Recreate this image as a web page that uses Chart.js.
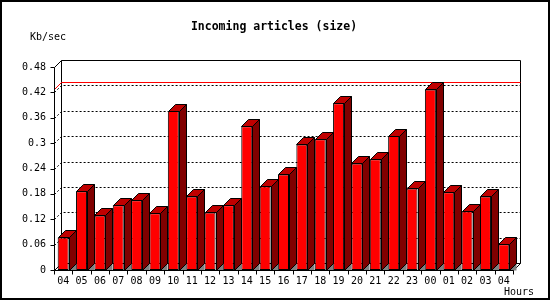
<!DOCTYPE html>
<html>
<head>
<meta charset="utf-8">
<script src="https://cdn.jsdelivr.net/npm/chart.js@4"></script>
<style>
  html, body { margin: 0; padding: 0; background: #fff; }
  #wrap { width: 550px; height: 300px; }
</style>
</head>
<body>
<div id="wrap"><canvas id="sizeChart" width="550" height="300"></canvas></div>
<script>
// data
const hours = ['04', '05', '06', '07', '08', '09', '10', '11', '12', '13', '14', '15', '16',
               '17', '18', '19', '20', '21', '22', '23', '00', '01', '02', '03', '04'];
const kbPerSec = [0.077, 0.186, 0.129, 0.153, 0.165, 0.134, 0.376, 0.174, 0.136, 0.153, 0.340, 0.198, 0.226,
                  0.297, 0.309, 0.394, 0.252, 0.262, 0.317, 0.193, 0.427, 0.184, 0.139, 0.174, 0.061];
const yTickLabels = ['0', '0.06', '0.12', '0.18', '0.24', '0.3', '0.36', '0.42', '0.48'];
const peakLine = Math.max(...kbPerSec);

const DX = 7, DY = 7;   // depth of the 3d look
const FONT = '"DejaVu Sans Mono", monospace';

const frame3d = {
    id: 'frame3d',
    beforeDatasetsDraw(chart) {
        const { ctx, chartArea: a, scales: { x, y } } = chart;
        const L = Math.round(a.left) + 0.5, R = Math.round(a.right) + 0.5;
        const T = Math.round(a.top) + 0.5, B = Math.round(a.bottom) + 0.5;
        ctx.save();
        ctx.lineWidth = 1;

        // dotted grid on the back wall
        ctx.strokeStyle = '#000';
        ctx.setLineDash([2, 2]);
        for (let i = 1; i < yTickLabels.length - 1; i++) {
            const py = Math.round(y.getPixelForValue(i * 0.06)) + 0.5;
            ctx.beginPath();
            ctx.moveTo(L, py);
            ctx.lineTo(L + DX, py - DY);
            ctx.lineTo(R + DX, py - DY);
            ctx.stroke();
        }
        ctx.setLineDash([]);

        // back wall
        ctx.beginPath();
        ctx.moveTo(L, T);
        ctx.lineTo(L + DX, T - DY);
        ctx.lineTo(R + DX, T - DY);
        ctx.lineTo(R + DX, B - DY);
        ctx.lineTo(R, B);
        ctx.moveTo(L + DX, T - DY);
        ctx.lineTo(L + DX, B - DY);
        ctx.lineTo(R + DX, B - DY);
        ctx.moveTo(L, B);
        ctx.lineTo(L + DX, B - DY);
        ctx.stroke();

        // peak line
        const pk = Math.round(y.getPixelForValue(peakLine)) + 0.5;
        ctx.strokeStyle = '#ff0000';
        ctx.beginPath();
        ctx.moveTo(L, pk);
        ctx.lineTo(L + DX, pk - DY);
        ctx.lineTo(R + DX, pk - DY);
        ctx.stroke();
        ctx.restore();
    },
    afterDatasetsDraw(chart) {
        const { ctx, chartArea: a, scales: { x, y } } = chart;
        const meta = chart.getDatasetMeta(0);
        ctx.save();
        ctx.lineWidth = 1;
        ctx.strokeStyle = '#000';
        meta.data.forEach(bar => {
            const l = Math.round(bar.x - bar.width / 2) + 0.5;
            const r = Math.round(bar.x + bar.width / 2) + 0.5;
            const t = Math.round(bar.y) + 0.5;
            const b = Math.round(bar.base) + 0.5;
            // floor shadow
            ctx.fillStyle = '#808080';
            ctx.beginPath();
            ctx.moveTo(r, b);
            ctx.lineTo(r + DX, b - DY);
            ctx.lineTo(r + DX, b);
            ctx.closePath();
            ctx.fill();
            ctx.beginPath();
            ctx.moveTo(r, b);
            ctx.lineTo(r + DX, b - DY);
            ctx.stroke();
            // side
            ctx.fillStyle = '#800000';
            ctx.beginPath();
            ctx.moveTo(r, t);
            ctx.lineTo(r + DX, t - DY);
            ctx.lineTo(r + DX, b - DY);
            ctx.lineTo(r, b);
            ctx.closePath();
            ctx.fill();
            ctx.stroke();
            // top
            ctx.fillStyle = '#c00000';
            ctx.beginPath();
            ctx.moveTo(l, t);
            ctx.lineTo(l + DX, t - DY);
            ctx.lineTo(r + DX, t - DY);
            ctx.lineTo(r, t);
            ctx.closePath();
            ctx.fill();
            ctx.stroke();
        });

        // front axes and tick marks
        const L = Math.round(a.left) + 0.5, R = Math.round(a.right) + 0.5;
        const T = Math.round(a.top) + 0.5, B = Math.round(a.bottom) + 0.5;
        ctx.beginPath();
        ctx.moveTo(L, T);
        ctx.lineTo(L, B);
        ctx.lineTo(R, B);
        for (let i = 0; i < yTickLabels.length; i++) {
            const py = Math.round(y.getPixelForValue(i * 0.06)) + 0.5;
            ctx.moveTo(L - 4, py);
            ctx.lineTo(L, py);
        }
        const step = (a.right - a.left) / hours.length;
        for (let i = 0; i <= hours.length; i++) {
            const px = Math.round(a.left + i * step) + 0.5;
            ctx.moveTo(px, B);
            ctx.lineTo(px, B + 4);
        }
        ctx.stroke();

        // texts
        ctx.fillStyle = '#000';
        ctx.textBaseline = 'middle';
        ctx.textAlign = 'center';
        ctx.font = 'bold 11.5px ' + FONT;
        ctx.fillText('Incoming articles (size)', 274, 27);
        ctx.font = '10px ' + FONT;
        ctx.textAlign = 'left';
        ctx.fillText('Kb/sec', 30, 37);
        ctx.fillText('Hours', 504, 292);

        // image frame
        ctx.lineWidth = 2;
        ctx.strokeRect(1, 1, 548, 298);
        ctx.restore();
    }
};

new Chart(document.getElementById('sizeChart'), {
    type: 'bar',
    data: {
        labels: hours,
        datasets: [{
            label: 'Incoming articles (size)',
            data: kbPerSec,
            backgroundColor: '#ff0000',
            borderColor: '#000',
            borderWidth: 1,
            borderSkipped: false,
            barPercentage: 0.6,
            categoryPercentage: 1
        }]
    },
    options: {
        responsive: false,
        animation: false,
        layout: { padding: { left: 0, top: 67, right: 37, bottom: 0 } },
        plugins: { legend: { display: false }, tooltip: { enabled: false } },
        scales: {
            x: {
                grid: { display: false, drawTicks: false },
                border: { display: false },
                ticks: {
                    color: '#000', font: { family: FONT, size: 10 },
                    padding: 5, autoSkip: false, maxRotation: 0
                },
                afterFit(s) { s.height = 30; }
            },
            y: {
                min: 0, max: 0.48,
                grid: { display: false, drawTicks: false },
                border: { display: false },
                ticks: {
                    stepSize: 0.06,
                    color: '#000', font: { family: FONT, size: 10 },
                    padding: 8,
                    callback: (v, i) => yTickLabels[i]
                },
                afterFit(s) { s.width = 54; }
            }
        }
    },
    plugins: [frame3d]
});
</script>
</body>
</html>
